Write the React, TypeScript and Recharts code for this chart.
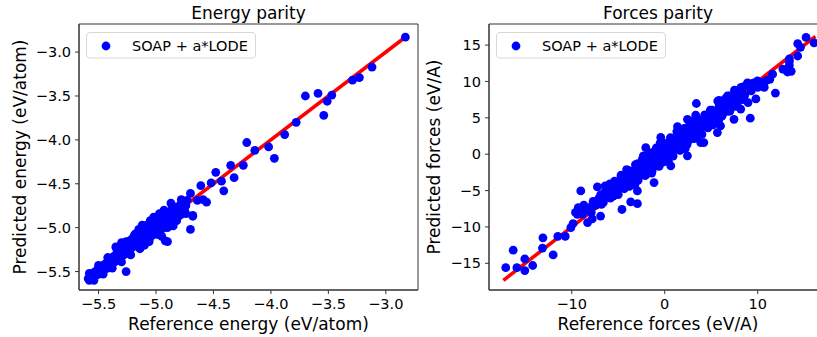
import { ScatterChart, Scatter, XAxis, YAxis, ReferenceArea, Label } from 'recharts';

const FONT = '"DejaVu Sans", sans-serif';
const DOT = '#0000ff';
const LINE = '#ff0000';
const SPINE = '#333';

// energy parity: [reference, predicted] in eV/atom
const energyCluster: [number, number][] = [
  [-5.59, -5.58], [-5.58, -5.60], [-5.57, -5.55], [-5.56, -5.58], [-5.55, -5.52], [-5.54, -5.56],
  [-5.53, -5.50], [-5.52, -5.54], [-5.51, -5.48], [-5.50, -5.53], [-5.49, -5.46], [-5.48, -5.51],
  [-5.47, -5.44], [-5.46, -5.49], [-5.45, -5.42], [-5.44, -5.47], [-5.43, -5.40], [-5.42, -5.46],
  [-5.41, -5.38], [-5.40, -5.44], [-5.39, -5.35], [-5.38, -5.41], [-5.37, -5.33], [-5.36, -5.39],
  [-5.35, -5.31], [-5.34, -5.37], [-5.33, -5.28], [-5.32, -5.35], [-5.31, -5.26], [-5.30, -5.33],
  [-5.29, -5.23], [-5.28, -5.31], [-5.27, -5.21], [-5.26, -5.29], [-5.25, -5.19], [-5.24, -5.26],
  [-5.23, -5.15], [-5.22, -5.24], [-5.21, -5.13], [-5.20, -5.22], [-5.19, -5.16], [-5.18, -5.10],
  [-5.17, -5.20], [-5.16, -5.13], [-5.15, -5.07], [-5.14, -5.18], [-5.13, -5.11], [-5.12, -5.04],
  [-5.11, -5.16], [-5.10, -5.09], [-5.09, -5.01], [-5.08, -5.13], [-5.07, -5.06], [-5.06, -4.98],
  [-5.05, -5.11], [-5.04, -5.03], [-5.03, -4.96], [-5.02, -5.08], [-5.01, -5.00], [-5.00, -4.93],
  [-4.99, -5.06], [-4.98, -4.98], [-4.97, -4.90], [-4.96, -5.03], [-4.95, -4.95], [-4.94, -4.87],
  [-4.93, -5.00], [-4.92, -4.92], [-4.91, -4.85], [-4.90, -4.97], [-4.89, -4.89], [-4.88, -4.82],
  [-4.87, -4.94], [-4.86, -4.87], [-4.85, -4.80], [-4.84, -4.91], [-4.83, -4.84], [-4.82, -4.77],
  [-4.81, -4.88], [-4.80, -4.81], [-4.79, -4.74], [-4.78, -4.85], [-4.77, -4.78], [-4.76, -4.72],
  [-4.75, -4.81], [-4.74, -4.75], [-4.73, -4.69],
];

// points on the outer edges of the dense band
const energyBandEdge: [number, number][] = [
  [-5.58, -5.52], [-5.54, -5.60], [-5.50, -5.43], [-5.46, -5.53], [-5.42, -5.34], [-5.38, -5.46],
  [-5.34, -5.25], [-5.30, -5.39], [-5.26, -5.16], [-5.22, -5.31], [-5.18, -5.07], [-5.14, -5.24],
  [-5.10, -4.99], [-5.06, -5.16], [-5.02, -4.91], [-4.98, -5.08], [-4.94, -4.83], [-4.90, -5.00],
  [-4.86, -4.75], [-4.82, -4.92], [-4.78, -4.68], [-4.74, -4.84], [-5.35, -5.22], [-5.12, -4.97],
  [-5.05, -4.92], [-4.97, -4.84], [-4.93, -4.80], [-5.08, -4.97], [-5.15, -5.02], [-4.85, -4.98],
  [-4.95, -5.10], [-5.10, -5.20],
];

const energyOutliers: [number, number][] = [
  [-2.83, -2.83], [-3.12, -3.17], [-3.23, -3.29], [-3.29, -3.32], [-3.47, -3.49], [-3.51, -3.56],
  [-3.59, -3.47], [-3.70, -3.50], [-3.54, -3.72], [-3.78, -3.80], [-3.88, -3.94], [-4.02, -4.08],
  [-3.97, -4.21], [-4.21, -4.03], [-4.14, -4.12], [-4.24, -4.29], [-4.35, -4.29], [-4.32, -4.43],
  [-4.48, -4.37], [-4.43, -4.47], [-4.52, -4.49], [-4.41, -4.58], [-4.61, -4.52], [-4.59, -4.68],
  [-4.64, -4.69], [-4.70, -4.61], [-4.68, -4.87], [-4.70, -5.02], [-4.76, -4.72], [-4.87, -4.72],
  [-4.83, -4.92], [-5.02, -4.88], [-4.92, -5.15], [-5.30, -5.17], [-5.26, -5.50], [-4.90, -5.16],
  [-5.19, -5.09], [-4.56, -4.71], [-4.68, -4.86],
];

// forces parity: [reference, predicted] in eV/A
const forcesCluster: [number, number][] = [
  [-6.60, -6.64], [-6.45, -5.20], [-6.30, -5.76], [-6.15, -4.52], [-6.00, -5.18], [-5.85, -6.04],
  [-5.70, -4.40], [-5.55, -5.16], [-5.40, -3.72], [-5.25, -4.58], [-5.10, -5.44], [-4.95, -3.80],
  [-4.80, -4.46], [-4.65, -3.02], [-4.50, -3.79], [-4.35, -4.75], [-4.20, -3.01], [-4.05, -3.77],
  [-3.90, -2.23], [-3.75, -3.19], [-3.60, -4.15], [-3.45, -2.31], [-3.30, -3.17], [-3.15, -1.43],
  [-3.00, -2.39], [-2.85, -3.55], [-2.70, -1.51], [-2.55, -2.47], [-2.40, -0.63], [-2.25, -1.79],
  [-2.10, -2.95], [-1.95, -0.81], [-1.80, -1.87], [-1.65, 0.17], [-1.50, -1.00], [-1.35, -2.26],
  [-1.20, -0.02], [-1.05, -1.28], [-0.90, 0.86], [-0.75, -0.40], [-0.60, -1.66], [-0.45, 0.68],
  [-0.30, -0.58], [-0.15, 1.56], [0.00, 0.40], [0.15, -0.96], [0.30, 1.38], [0.45, 0.12],
  [0.60, 2.26], [0.75, 1.00], [0.90, -0.26], [1.05, 1.98], [1.20, 0.92], [1.35, 2.86],
  [1.50, 1.80], [1.65, 0.53], [1.80, 2.67], [1.95, 1.61], [2.10, 3.55], [2.25, 2.39],
  [2.40, 1.33], [2.55, 3.27], [2.70, 2.41], [2.85, 4.15], [3.00, 3.19], [3.15, 2.13],
  [3.30, 3.97], [3.45, 3.11], [3.60, 4.75], [3.75, 3.79], [3.90, 2.93], [4.05, 4.57],
  [4.20, 3.91], [4.35, 5.35], [4.50, 4.59], [4.65, 3.62], [4.80, 5.26], [4.95, 4.60],
  [5.10, 6.04], [5.25, 5.18], [5.40, 4.42], [5.55, 5.96], [5.70, 5.30], [5.85, 6.64],
  [6.00, 5.88], [6.15, 5.22], [6.30, 6.66], [6.45, 6.10], [6.60, 7.24], [6.75, 6.58],
  [6.90, 5.92], [7.05, 7.36], [7.20, 6.80], [7.35, 7.94], [7.50, 7.28], [7.65, 6.71],
  [7.80, 8.05], [7.95, 7.49], [8.10, 8.53], [8.25, 7.97], [8.40, 7.51],
  [-8.0, -7.3], [-7.7, -6.5], [-7.4, -7.0], [-7.1, -6.1], [-6.8, -6.9], [-7.9, -8.0],
  [-8.6, -7.7], [-6.9, -5.6],
];

const forcesBandEdge: [number, number][] = [
  [-5.9, -4.09], [-5.6, -5.81], [-5.3, -4.33], [-5.0, -5.55], [-4.7, -2.87], [-4.4, -4.29],
  [-4.1, -2.11], [-3.8, -4.43], [-3.5, -2.56], [-3.2, -4.18], [-2.9, -1.30], [-2.6, -2.62],
  [-2.3, -0.24], [-2.0, -2.76], [-1.7, -0.88], [-1.4, -2.60], [-1.1, 0.38], [-0.8, -0.94],
  [-0.5, 1.53], [-0.2, -1.09], [0.1, 0.79], [0.4, -1.03], [0.7, 2.05], [1.0, 0.73],
  [1.3, 3.11], [1.6, 0.59], [1.9, 2.47], [2.2, 0.75], [2.5, 3.73], [2.8, 2.40],
  [3.1, 4.58], [3.4, 2.26], [3.7, 4.14], [4.0, 2.72], [4.3, 5.40], [4.6, 4.08],
  [4.9, 6.06], [5.2, 4.04], [5.5, 5.82], [5.8, 4.69], [6.1, 6.97], [6.4, 5.75],
  [6.7, 7.43], [7.0, 5.91], [7.3, 7.39], [7.6, 6.57], [7.9, 8.45],
  [5.7, 7.3], [6.74, 8.0], [7.8, 8.7], [-0.43, 2.3], [-2.04, 0.9], [3.87, 1.6],
  [2.44, -0.23], [0.65, -1.6], [-1.15, -3.9], [-2.94, -5.05], [-5.45, -5.7], [5.66, 2.97],
  [7.45, 4.8], [8.17, 6.2],
];

const forcesCore: [number, number][] = [
  [-3.05, -1.94], [-2.75, -2.96], [-2.45, -1.78], [-2.15, -0.80], [-1.85, -2.22], [-1.55, -0.84],
  [-1.25, 0.14], [-0.95, -1.48], [-0.65, 0.00], [-0.35, 0.97], [-0.05, -0.55], [0.25, 0.83],
  [0.55, 1.81], [0.85, 0.29], [1.15, 1.67], [1.45, 2.65], [1.75, 1.13], [2.05, 2.51],
  [2.35, 3.39], [2.65, 1.96], [2.95, 3.34], [3.25, 4.12], [3.55, 2.90],
];

const forcesOutliers: [number, number][] = [
  [-17.1, -15.6], [-16.3, -13.2], [-15.9, -15.6], [-15.05, -14.4], [-15.05, -16.0], [-14.2, -15.3],
  [-13.15, -12.9], [-13.1, -11.5], [-12.0, -13.85], [-11.5, -11.3], [-10.7, -11.3], [-10.1, -10.1],
  [-9.86, -9.54], [-9.03, -5.05], [-9.4, -8.26], [-8.7, -7.0], [-8.3, -9.4], [-7.8, -8.9],
  [-6.9, -8.5], [-7.7, -6.7], [-4.6, -7.6], [-3.66, -6.56], [-2.94, -6.8], [-6.4, -4.36],
  [-4.7, -3.1], [-9.6, -8.0], [-8.85, -8.25], [-9.3, -7.35], [-7.24, -4.5], [-8.3, -7.6],
  [-6.5, -5.5], [2.44, 4.8], [3.4, 6.97], [3.33, 5.36], [1.37, 3.8], [5.84, 7.4], [6.0, 3.9],
  [4.2, 1.6], [9.2, 4.95], [9.8, 7.6], [8.96, 7.1], [11.9, 8.4], [10.6, 9.4], [11.3, 10.3],
  [9.35, 9.7], [10.6, 9.9], [13.2, 11.3], [12.7, 11.7], [13.4, 12.75], [14.3, 13.5], [14.3, 15.2],
  [15.2, 16.05], [16.06, 15.3], [14.6, 14.7], [8.2, 9.2], [7.3, 7.8], [6.4, 6.2], [7.5, 8.8],
  [8.5, 9.3], [8.9, 9.8], [9.6, 9.8], [8.0, 8.6], [7.0, 8.0], [6.5, 7.6], [6.8, 6.3], [7.8, 7.0],
  [8.6, 8.1], [9.3, 8.7], [10.0, 9.2], [13.4, 13.1], [13.4, 12.2], [13.6, 11.4], [11.6, 11.0],
  [10.9, 10.1], [10.7, 9.2], [8.9, 9.63], [9.97, 10.08],
];

const energyLine: [number, number][] = [[-5.6, -5.6], [-2.82, -2.82]];
const forcesLine: [number, number][] = [[-17.35, -17.35], [16.2, 16.2]];

const energyTicks = [-5.5, -5.0, -4.5, -4.0, -3.5, -3.0];
const forcesXTicks = [-10, 0, 10];
const forcesYTicks = [-15, -10, -5, 0, 5, 10, 15];

const toPts = (a: [number, number][]) => a.map(([x, y]) => ({ x, y }));

const minus = (s: string) => s.replace('-', '\u2212');
const fmt1 = (v: number) => minus(v.toFixed(1));
const fmt0 = (v: number) => minus(v.toFixed(0));

const Dot = (p: any) => <circle cx={p.cx} cy={p.cy} r={4.4} fill={DOT} />;
const NoDot = () => <g />;

const tickStyle = { fontSize: 14.5, fontFamily: FONT, fill: '#000' };

function Parity({ width, left, title, xLabel, yLabel, yLabelX, xDomain, yDomain, xTicks, yTicks, fmt, yAxisWidth, pts, line }: any) {
  const plotLeft = 19 + yAxisWidth;
  const plotRight = width - (width > 415 ? 2 : 3);
  const centre = (plotLeft + plotRight) / 2;
  return (
    <div style={{ position: 'absolute', left, top: 0, width, height: 337 }}>
      <div style={{ position: 'absolute', left: 0, width: width, top: 4.6, fontSize: 17, lineHeight: '17px', fontFamily: FONT, color: '#000' }}>
        <span style={{ position: 'absolute', left: centre, transform: 'translateX(-50%)', whiteSpace: 'nowrap' }}>{title}</span>
      </div>
      <ScatterChart width={width} height={337} margin={{ top: 24, right: width - plotRight, bottom: 17, left: 19 }}>
        <XAxis dataKey="x" type="number" domain={xDomain} ticks={xTicks} interval={0} allowDataOverflow
          tickFormatter={fmt} tick={tickStyle} tickSize={4} tickMargin={5} height={30}
          stroke={SPINE} tickLine={{ stroke: SPINE }}>
          <Label content={({ viewBox }: any) => (
            <text x={viewBox.x + viewBox.width / 2} y={330} textAnchor="middle" fontSize={17} fontFamily={FONT} fill="#000">{xLabel}</text>
          )} />
        </XAxis>
        <YAxis dataKey="y" type="number" domain={yDomain} ticks={yTicks} interval={0} allowDataOverflow
          tickFormatter={fmt} tick={tickStyle} tickSize={4} tickMargin={4} width={yAxisWidth}
          stroke={SPINE} tickLine={{ stroke: SPINE }}>
          <Label content={({ viewBox }: any) => {
            const cy = viewBox.y + viewBox.height / 2;
            return (
              <text x={yLabelX} y={cy} transform={`rotate(-90, ${yLabelX}, ${cy})`} textAnchor="middle" fontSize={17} fontFamily={FONT} fill="#000">{yLabel}</text>
            );
          }} />
        </YAxis>
        <ReferenceArea x1={xDomain[0]} x2={xDomain[1]} y1={yDomain[0]} y2={yDomain[1]} fill="none" stroke={SPINE} strokeWidth={1} ifOverflow="visible" />
        <Scatter data={toPts(line)} line={{ stroke: LINE, strokeWidth: 3.6 }} shape={NoDot} legendType="none" isAnimationActive={false} />
        <Scatter data={pts} shape={Dot} isAnimationActive={false} />
      </ScatterChart>
      <svg style={{ position: 'absolute', left: plotLeft + 7, top: 32 }} width={170} height={27}>
        <rect x={0.5} y={0.5} width={169} height={25.5} rx={3.5} fill="#fff" fillOpacity={0.8} stroke="#d6d6d6" />
        <circle cx={20} cy={14} r={4.4} fill={DOT} />
        <text x={46} y={18.7} fontSize={14.5} fontFamily={FONT} fill="#000">SOAP + a*LODE</text>
      </svg>
    </div>
  );
}

export default function App() {
  return (
    <div style={{ position: 'absolute', left: 0, top: 0, width: 817, height: 337, overflow: 'hidden', background: '#fff' }}>
      <Parity width={420} left={0} title="Energy parity" xLabel="Reference energy (eV/atom)" yLabel="Predicted energy (eV/atom)"
        yLabelX={25.5} xDomain={[-5.67, -2.72]} yDomain={[-5.71, -2.68]} xTicks={energyTicks} yTicks={energyTicks}
        fmt={fmt1} yAxisWidth={60} pts={toPts([...energyCluster, ...energyBandEdge, ...energyOutliers])} line={energyLine} />
      <Parity width={410} left={420} title="Forces parity" xLabel="Reference forces (eV/A)" yLabel="Predicted forces (eV/A)"
        yLabelX={20} xDomain={[-18.9, 17.45]} yDomain={[-18.67, 17.9]} xTicks={forcesXTicks} yTicks={forcesYTicks}
        fmt={fmt0} yAxisWidth={50} pts={toPts([...forcesCluster, ...forcesBandEdge, ...forcesCore, ...forcesOutliers])} line={forcesLine} />
    </div>
  );
}
